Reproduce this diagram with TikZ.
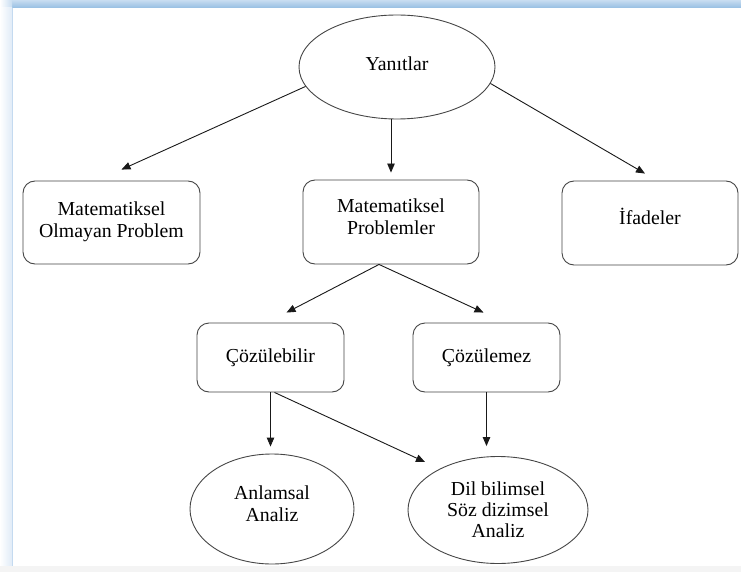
\documentclass[tikz,border=0pt]{standalone}
\usepackage{fontspec}
\setmainfont{Liberation Serif}[Ligatures=TeX]
\newfontfamily\labelfont{Liberation Serif}
\usetikzlibrary{arrows.meta,shapes.geometric,calc}

\definecolor{edge}{RGB}{70,70,70}
\definecolor{ink}{RGB}{25,25,25}
\definecolor{bandtop}{RGB}{200,221,241}
\definecolor{bandbot}{RGB}{150,190,226}
\definecolor{sidebl}{RGB}{224,235,247}
\definecolor{sideln}{RGB}{196,218,240}

% extra depth below the last text line, lifts the text inside its shape
\newcommand{\dropby}[1]{\rule[-#1]{0pt}{0pt}}

\begin{document}
\begin{tikzpicture}[x=1pt,y=-1pt,
  font=\labelfont\fontsize{19.8}{22}\selectfont,
  box/.style={draw=edge, line width=0.9pt, rounded corners=12pt,
              align=center, inner sep=0pt},
  oval/.style={ellipse, draw=edge, line width=0.9pt, align=center, inner sep=0pt},
  conn/.style={draw=ink, line width=0.9pt, -{Triangle[length=9pt,width=7.5pt]}},
]
% page and frame
\fill[white] (0,0) rectangle (741,572);
\useasboundingbox (0,0) rectangle (741,572);
\shade[top color=bandtop, bottom color=bandbot] (12,0) rectangle (741,8);
\shade[left color=white, right color=bandtop] (0,0) rectangle (12,8);
\shade[left color=white, right color=sidebl] (0,8) rectangle (12,566);
\draw[sideln, line width=0.8pt] (12.5,8) -- (12.5,566);
\fill[gray!9] (0,566) rectangle (741,572);

% nodes
\node[oval, minimum width=196pt, minimum height=104pt] (yan) at (397,67) {Yanıtlar\dropby{7pt}};

\node[box, minimum width=177pt, minimum height=83pt] (b1) at (111.5,222.5)
  {Matematiksel\\Olmayan Problem\dropby{6pt}};
\node[box, minimum width=176pt, minimum height=84pt] (b2) at (391,222)
  {Matematiksel\\Problemler\dropby{10pt}};
\node[box, minimum width=176pt, minimum height=84pt] (b3) at (650,223)
  {İfadeler\dropby{13pt}};

\node[box, minimum width=147pt, minimum height=69pt] (c1) at (270.5,357.5)
  {Çözülebilir\dropby{2pt}};
\node[box, minimum width=147pt, minimum height=69pt] (c2) at (486.5,357.5)
  {Çözülemez\dropby{2pt}};

\node[oval, minimum width=164pt, minimum height=110pt] (a1) at (272,509)
  {Anlamsal\\Analiz\dropby{10pt}};
\node[oval, minimum width=180pt, minimum height=107pt,
      font=\labelfont\fontsize{19.8}{21}\selectfont] (a2) at (498,510)
  {Dil bilimsel\\Söz dizimsel\\Analiz};

% connectors
\draw[conn] (yan.192) -- ($(b1.north)+(10,-11)$);
\draw[conn, shorten >=7pt] (b2.north |- yan.south) -- (b2.north);
\draw[conn] (yan.350) -- ($(b3.north)+(-5,-7)$);

\coordinate (split) at ($(b2.south)+(-12,0)$);
\draw[conn] (split) -- ($(c1.north)+(16,-10)$);
\draw[conn] (split) -- ($(c2.north)+(-3,-10)$);

\draw[conn, shorten >=7pt] (c1.south) -- (c1.south |- a1.north);
\draw[conn] ($(c1.south)+(4,0)$) -- ($(a2.center)+(-73,-48)$);
\draw[conn, shorten >=10pt] (c2.south) -- (c2.south |- a2.north);
\end{tikzpicture}
\end{document}
